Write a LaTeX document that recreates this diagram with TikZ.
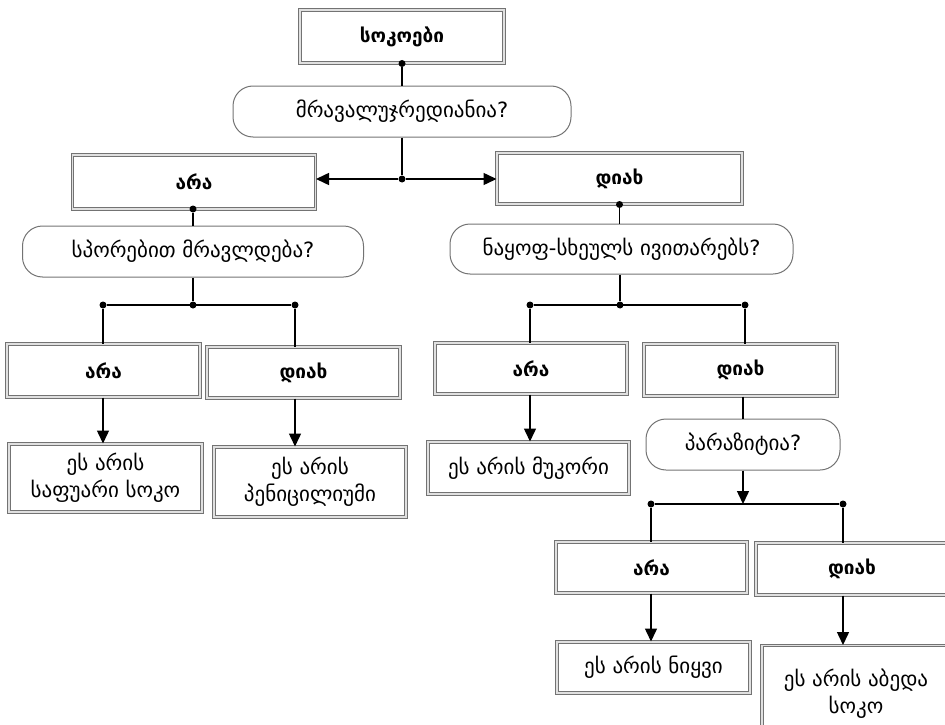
\documentclass[tikz,border=0pt]{standalone}
\usepackage{fontspec}
\setmainfont{DejaVu Sans}
\usetikzlibrary{arrows.meta}
\begin{document}
\begin{tikzpicture}[x=1pt,y=-1pt,
  framed/.style={draw=black!55, double=black!12, double distance=1.2pt, line width=1pt, inner sep=0pt},
  answer/.style={framed, font=\bfseries\fontsize{19}{22}\selectfont},
  verdict/.style={framed, align=center, font=\fontsize{21}{27}\selectfont},
  question/.style={draw=black!55, line width=1pt, rounded corners=20pt, inner sep=0pt, font=\fontsize{21}{24}\selectfont},
  dot/.style={circle, fill=black, inner sep=0pt, minimum size=7pt},
  link/.style={line width=1.5pt},
  flow/.style={link, -{Triangle[length=13pt,width=12pt]}}
]
\clip (0,0) rectangle (945,725);

% first level
\node[answer, minimum width=204, minimum height=53] (T) at (402,36.5) {სოკოები};
\node[question, minimum width=338, minimum height=51] (Q1) at (402,111.5) {მრავალუჯრედიანია?};
\node[answer, minimum width=243, minimum height=54] (A1) at (194,182) {არა};
\node[answer, minimum width=245, minimum height=51] (B1) at (619.5,178.5) {დიახ};

% left branch
\node[question, minimum width=341, minimum height=51] (Q2) at (193,251.5) {სპორებით მრავლდება?};
\node[answer, minimum width=193, minimum height=53] (A2) at (103.5,370.5) {არა};
\node[answer, minimum width=193, minimum height=51] (B2) at (303.5,372.5) {დიახ};
\node[verdict, minimum width=193, minimum height=68] (R1) at (105.5,478) {ეს არის\\საფუარი სოკო};
\node[verdict, minimum width=192, minimum height=70] (R2) at (310,482) {ეს არის\\პენიცილიუმი};

% right branch
\node[question, minimum width=343, minimum height=50] (Q3) at (621.5,249) {ნაყოფ-სხეულს ივითარებს?};
\node[answer, minimum width=192, minimum height=51] (A3) at (531,368.5) {არა};
\node[answer, minimum width=193, minimum height=52] (B3) at (740.5,370) {დიახ};
\node[verdict, minimum width=201, minimum height=52] (R3) at (528.5,468) {ეს არის მუკორი};
\node[question, minimum width=194, minimum height=51] (Q4) at (743,444.5) {პარაზიტია?};
\node[answer, minimum width=191, minimum height=51] (A4) at (651.5,567.5) {არა};
\node[answer, minimum width=192, minimum height=52] (B4) at (852,569) {დიახ};
\node[verdict, minimum width=193, minimum height=51] (R4) at (653.5,667.5) {ეს არის ნიყვი};
\node[verdict, minimum width=188, minimum height=97] (R5) at (856,694) {ეს არის აბედა\\სოკო};

% junction points
\node[dot] (dT) at (T.south) {};
\node[dot] (J1) at (402,179) {};
\node[dot] (dA1) at (193,209) {};
\node[dot] (J2) at (193,305) {};
\node[dot] (L2) at (103,305) {};
\node[dot] (M2) at (295,305) {};
\node[dot] (dB1) at (B1.south) {};
\node[dot] (J3) at (620,305) {};
\node[dot] (L3) at (530,305) {};
\node[dot] (M3) at (745,305) {};
\coordinate (J4) at (743,504);
\node[dot] (L4) at (651,504) {};
\node[dot] (M4) at (843,504) {};

% connectors
\draw[link] (dT) -- (dT |- Q1.north);
\draw[link] (Q1.south) -- (J1);
\draw[flow] (J1) -- (J1 -| A1.east);
\draw[flow] (J1) -- (J1 -| B1.west);

\draw[link] (dA1) -- (dA1 |- Q2.north);
\draw[link] (J2 |- Q2.south) -- (J2);
\draw[link] (L2) -- (M2);
\draw[link] (L2) -- (L2 |- A2.north);
\draw[link] (M2) -- (M2 |- B2.north);
\draw[flow] (L2 |- A2.south) -- (L2 |- R1.north);
\draw[flow] (M2 |- B2.south) -- (M2 |- R2.north);

\draw[link] (dB1) -- (dB1 |- Q3.north);
\draw[link] (J3 |- Q3.south) -- (J3);
\draw[link] (L3) -- (M3);
\draw[link] (L3) -- (L3 |- A3.north);
\draw[link] (M3) -- (M3 |- B3.north);
\draw[flow] (L3 |- A3.south) -- (L3 |- R3.north);
\draw[link] (J4 |- B3.south) -- (J4 |- Q4.north);
\draw[flow] (J4 |- Q4.south) -- (J4);
\draw[link] (L4) -- (M4);
\draw[link] (L4) -- (L4 |- A4.north);
\draw[link] (M4) -- (M4 |- B4.north);
\draw[flow] (L4 |- A4.south) -- (L4 |- R4.north);
\draw[flow] (M4 |- B4.south) -- (M4 |- R5.north);
\end{tikzpicture}
\end{document}
